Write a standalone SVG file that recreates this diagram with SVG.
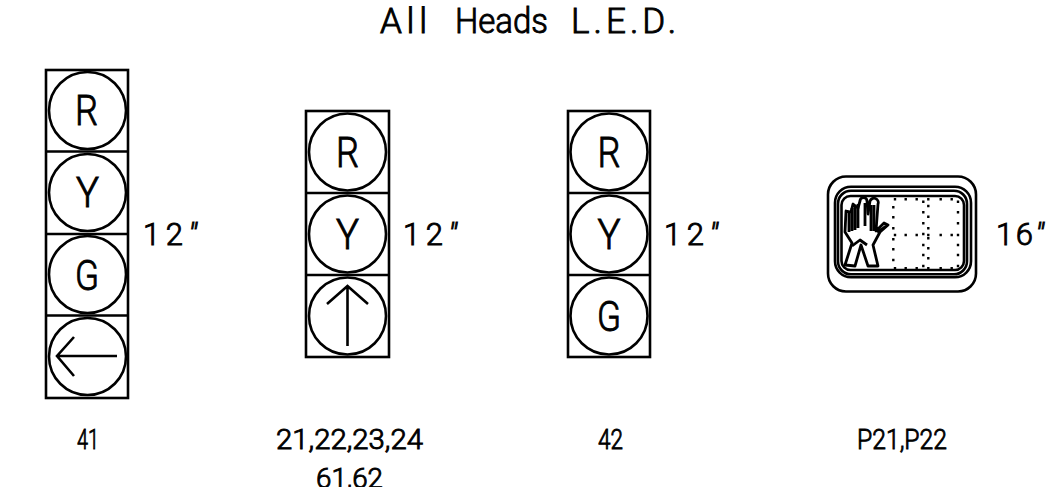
<svg xmlns="http://www.w3.org/2000/svg" width="1047" height="487" viewBox="0 0 1047 487">
<style>
.l{fill:none;stroke:#000;stroke-width:2.600}
.h{fill:none;stroke:#000;stroke-width:2.800;stroke-linejoin:round}
.dots{fill:none;stroke:#000;stroke-width:2.400;stroke-linecap:square}
text{font-family:"Roboto","Liberation Sans",sans-serif;font-weight:300;fill:#000;stroke:#000;stroke-width:.9}
.g{font-size:42px}
.d{font-size:31px}
.q{font-style:italic}
.b{font-size:28px}
</style>
<g id="title"><text font-size="35" y="33" x="380" textLength="47" lengthAdjust="spacing">All</text><text font-size="35" y="33" x="455" textLength="93" lengthAdjust="spacingAndGlyphs">Heads</text><text font-size="35" y="33" x="571" textLength="105" lengthAdjust="spacing">L.E.D.</text></g>
<g id="head-41">
<rect class="l" x="46" y="70" width="82" height="328"/>
<path class="l" d="M46 151.500H128M46 234H128M46 315.500H128"/>
<circle class="l" cx="87.500" cy="110.500" r="38.500"/><circle class="l" cx="87.500" cy="192.500" r="38.500"/><circle class="l" cx="87.500" cy="274.500" r="38.500"/><circle class="l" cx="87.500" cy="356.500" r="38.500"/>
<text class="g" x="75" y="125" textLength="23" lengthAdjust="spacingAndGlyphs">R</text><text class="g" x="76" y="207" textLength="23" lengthAdjust="spacingAndGlyphs">Y</text><text class="g" x="75" y="290" textLength="24" lengthAdjust="spacingAndGlyphs">G</text>
<path class="l" d="M117 356H57M74 337L57 356L74 376"/>
<text class="d" x="143" y="245" textLength="54" lengthAdjust="spacing">12<tspan class="q">"</tspan></text>
<text class="b" x="77" y="449" textLength="22" lengthAdjust="spacingAndGlyphs">41</text>
</g>
<g id="head-21">
<rect class="l" x="306" y="111" width="83" height="246"/>
<path class="l" d="M306 193H389M306 275H389"/>
<circle class="l" cx="347.500" cy="152" r="38.500"/><circle class="l" cx="347.500" cy="234" r="38.500"/><circle class="l" cx="347.500" cy="316" r="38.500"/>
<text class="g" x="336" y="167" textLength="23" lengthAdjust="spacingAndGlyphs">R</text><text class="g" x="336" y="249" textLength="23" lengthAdjust="spacingAndGlyphs">Y</text>
<path class="l" d="M347.500 346V286M327 304L347.500 286L368 304"/>
<text class="d" x="403" y="245" textLength="54" lengthAdjust="spacing">12<tspan class="q">"</tspan></text>
<text class="b" x="276" y="449" textLength="147" lengthAdjust="spacingAndGlyphs">21,22,23,24</text>
<text class="b" x="316" y="488" textLength="67" lengthAdjust="spacingAndGlyphs">61,62</text>
</g>
<g id="head-42">
<rect class="l" x="568" y="111" width="82" height="246"/>
<path class="l" d="M568 193H650M568 275H650"/>
<circle class="l" cx="609" cy="152" r="38.500"/><circle class="l" cx="609" cy="234" r="38.500"/><circle class="l" cx="609" cy="316" r="38.500"/>
<text class="g" x="597.500" y="167" textLength="23" lengthAdjust="spacingAndGlyphs">R</text><text class="g" x="597.500" y="249" textLength="23" lengthAdjust="spacingAndGlyphs">Y</text><text class="g" x="597" y="331" textLength="24" lengthAdjust="spacingAndGlyphs">G</text>
<text class="d" x="664" y="245" textLength="54" lengthAdjust="spacing">12<tspan class="q">"</tspan></text>
<text class="b" x="598" y="449" textLength="25" lengthAdjust="spacingAndGlyphs">42</text>
</g>
<g id="ped-head">
<rect class="l" x="828" y="176.500" width="148" height="115" rx="18"/>
<rect class="l" x="835" y="186.700" width="136" height="90.600" rx="16"/>
<rect class="l" x="838" y="190.700" width="129" height="83.600" rx="13"/>
<rect class="l" x="841.500" y="196" width="122.500" height="74" rx="9"/>
<path class="dots" d="M895 199.300h0M905.700 199.300h0M916.700 199.300h0M928.300 199.300h0M940.700 199.300h0M951.700 199.300h0M895 235h0M905.700 235h0M916.700 235h0M928.300 235h0M940.700 235h0M951.700 235h0M958 235h0M895 268.300h0M905.700 268.300h0M916.700 268.300h0M928.300 268.300h0M940.700 268.300h0M951.700 268.300h0
M893.300 207.300h0M893.300 217.300h0M893.300 228.300h0M893.300 239.300h0M893.300 249.300h0M893.300 260h0
M923.300 201.700h0M923.300 212.300h0M923.300 223.300h0M923.300 234h0M923.300 245h0M923.300 255h0M923.300 266h0
M928.300 206h0M928.300 216.700h0M928.300 228.300h0M928.300 238.300h0M928.300 248.300h0M928.300 258.300h0
M958 201.700h0M958 212.300h0M958 223.300h0M958 245h0M958 255h0M958 266h0"/>
<path class="h" d="M846 211L845 232L852 243L845 265L855 266L861 245L868 266L878 266L873 245L880 232L888 225L884 223L876 231L878 204A4 4 0 0 0 870 201L868 214L867 201A3 3 0 0 0 860 201L858 208L853 204L851 212Z"/>
<path class="h" d="M849 212V232M852 208V231M855 206V230M858 204V228M865 203V226M871 205V231M874 205V231M852 246L860 240L867 245M877 232L882 229L886 226"/>
<text class="d" x="996" y="245" textLength="48" lengthAdjust="spacing">16<tspan class="q">"</tspan></text>
<text class="b" x="857" y="449" textLength="90" lengthAdjust="spacingAndGlyphs">P21,P22</text>
</g>
</svg>
